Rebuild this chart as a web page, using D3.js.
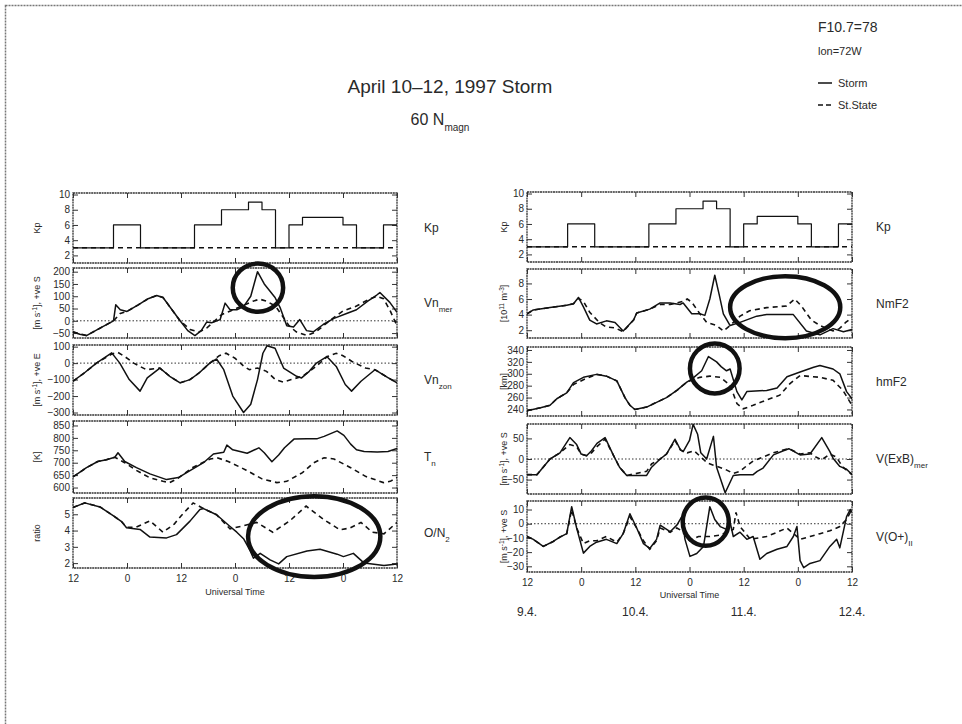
<!DOCTYPE html>
<html><head><meta charset="utf-8">
<script src="https://cdn.jsdelivr.net/npm/d3@7"></script>
<style>
body{margin:0;background:#fff;}
text{font-family:"Liberation Sans",Arial,sans-serif;fill:#2a2a2a;}
</style></head>
<body><svg id="c" width="962" height="724"></svg>
<script>
// ---------- DATA (hours from 12 UT 9 April 1997, value) ----------
const xTickHours = [0,12,24,36,48,60,72];
const xTickLabels = ["12","0","12","0","12","0","12"];
const dateHours = [0,24,48,72];
const dateLabels = ["9.4.","10.4.","11.4.","12.4."];

const kpStorm = [[0,3],[9,6],[15,3],[27,6],[33,8],[39,9],[42,8],[45,3],[48,6],[51,7],[60,6],[63,3],[69,6],[72,6]];
const kpSS = [[0,3],[72,3]];

const vnMerStorm = [[0,-45],[1.5,-55],[3,-60],[6,-30],[9,0],[9.5,65],[10.5,45],[12,38],[14.5,65],[16.7,90],[18.6,103],[20,95],[22,45],[23.8,0],[25.5,-40],[27.1,-60],[28.5,-40],[29.7,-5],[30.8,-8],[32.7,5],[33.8,72],[34.9,45],[36.4,45],[37.9,58],[39.5,100],[41,200],[42.5,150],[44.9,95],[46,55],[47.5,-20],[49,-25],[50.4,5],[51.9,-40],[53.4,-45],[55.6,-15],[58,10],[60.8,30],[63,45],[65.5,80],[67.5,105],[68.2,115],[70.4,75],[72,35]];
const vnMerSS = [[0,-45],[3,-60],[6,-30],[9,0],[10.5,30],[12,38],[14.5,65],[16.7,90],[18.6,103],[20,95],[22,45],[23.8,0],[26,-35],[28,-45],[29.7,-30],[31.5,0],[33,25],[35,40],[37.5,60],[40,80],[41.5,88],[43,80],[45,60],[46.5,20],[48,-20],[49.6,-45],[52,-60],[54,-45],[57,0],[60,40],[63,60],[65.5,85],[67.5,100],[69,90],[70.5,40],[72,-20]];

const vnZonStorm = [[0,-110],[2.5,-60],[5.2,0],[8.6,62],[10.4,0],[12.5,-100],[14.9,-170],[16.5,-90],[19.3,-30],[21.5,-80],[23.8,-120],[26,-100],[28,-60],[30.4,0],[31.9,25],[33.5,-40],[35.5,-200],[37.9,-300],[39.5,-250],[41,-100],[42.2,60],[43.1,105],[44.9,90],[46.8,-30],[49.7,-80],[50.8,-90],[52.5,-50],[54.1,0],[56.4,40],[58.5,-20],[60.5,-130],[61.9,-170],[64,-110],[67.1,-40],[69.5,-80],[72,-120]];
const vnZonSS = [[0,-110],[2.5,-60],[5.2,0],[8.6,55],[10,65],[11.5,40],[13.5,0],[16.3,-40],[19.3,-30],[21.5,-80],[23.8,-120],[26,-100],[28,-60],[30.4,0],[32.5,45],[34,60],[36,30],[38,-20],[39.2,-40],[41,-30],[43,-50],[45,-100],[46.7,-115],[48.5,-100],[51,-80],[54,-20],[56.5,40],[58.5,60],[60,45],[62,10],[65,-30],[67.1,-40],[69.5,-80],[72,-120]];

const tnStorm = [[0,643],[3,680],[5.5,705],[7.4,712],[9.3,722],[10,740],[11.5,705],[14.1,680],[17.1,655],[20.8,632],[23.4,640],[26,668],[29,700],[31.2,735],[33.5,742],[34.2,771],[35.5,752],[38.7,738],[41.3,760],[42.5,740],[44.2,704],[45.7,731],[47,760],[49.1,795],[52,797],[54.3,797],[55.8,806],[58.7,828],[60.2,810],[61.7,775],[63,752],[64.7,745],[67.6,743],[70,745],[72,757]];
const tnSS = [[0,643],[3,680],[5.5,705],[7.4,712],[9.3,722],[11.5,700],[14,670],[17,640],[20,625],[21.5,620],[23.4,638],[26.5,680],[30.5,715],[32,720],[34.5,705],[38.5,670],[42,635],[45.3,620],[47.5,625],[51,660],[53.5,700],[55.8,720],[58,715],[61.7,680],[65,645],[69,620],[70.5,625],[72,640]];

const on2Storm = [[0,5.42],[2.6,5.7],[6,5.45],[9,4.9],[10.8,4.55],[11.9,4.17],[14.9,4.07],[17.1,3.6],[20.8,3.55],[23,3.75],[26,4.58],[28.2,5.3],[29,5.35],[31.9,4.97],[34.9,4.25],[36.4,3.9],[37.9,3.5],[39.3,2.8],[40.1,2.3],[41.6,2.6],[43.8,2.2],[45.7,1.95],[47.5,2.4],[52,2.75],[54.9,2.85],[58.7,2.55],[60.1,2.4],[62.3,2.6],[64.7,2.0],[69.1,1.85],[72,1.95]];
const on2SS = [[0,5.42],[2.6,5.7],[6,5.45],[9,4.9],[10.8,4.55],[11.9,4.2],[14,4.2],[17.1,4.6],[20,3.9],[22.5,4.4],[24,4.9],[26.7,5.7],[29,5.35],[31.9,4.97],[34.9,4.1],[37.9,4.3],[40.8,4.5],[44.4,3.9],[48.2,4.6],[51.8,5.5],[55.6,4.7],[59.3,4.05],[61.5,4.15],[64,4.5],[66.5,3.9],[69.1,3.8],[72,4.5]];

const nmStorm = [[0,4.1],[1.4,4.6],[5.1,4.9],[8.8,5.2],[10.3,5.4],[11.4,6.2],[12.5,5.0],[13.9,3.3],[15.4,2.8],[17.6,3.2],[19.5,3.0],[21.3,1.9],[23.6,3.3],[24.3,4.2],[27.2,4.7],[29.5,5.5],[31.7,5.5],[33.9,5.3],[34.6,5.5],[36.5,4.1],[38.3,4.1],[39.4,3.9],[40.5,6.0],[41.6,9.05],[42.6,6.5],[43.5,4.1],[45,2.6],[47.2,3.0],[50.9,3.8],[53.1,4.0],[59,4.0],[61.9,1.9],[64.9,1.4],[67.8,2.2],[70.1,1.8],[72,2.1]];
const nmSS = [[0,4.1],[1.4,4.6],[5.1,4.9],[8.8,5.2],[10.3,5.4],[11.4,6.1],[12.5,5.7],[13.9,4.3],[16,3.0],[17.6,2.4],[19.5,2.3],[21.3,1.8],[23.6,3.3],[24.3,4.2],[27.2,4.7],[29.5,5.3],[31.7,5.3],[34.6,5.7],[35.5,6.0],[36.5,5.6],[38.3,4.1],[39.8,3.0],[42,2.6],[43.5,1.9],[45,2.6],[47.2,3.8],[49.3,4.5],[53.1,4.9],[57.5,5.1],[59.3,6.0],[60.8,5.1],[63,3.3],[64.9,2.6],[67.8,1.9],[69.2,2.2],[70.6,3.0],[72,3.6]];

const hmStorm = [[0,238],[3,243],[5.1,247],[6.6,258],[8.8,268],[10.3,285],[12.5,294],[15.4,299],[17.6,296],[19.9,288],[21.7,260],[22.8,247],[23.9,240],[26.5,244],[28.7,252],[30.9,260],[33.2,272],[35.4,286],[36.5,291],[38.7,305],[40.2,329],[42,320],[43,312],[44.2,305],[45,308],[46.5,270],[47.6,256],[48.7,270],[53.1,272],[55.4,276],[57.6,295],[60.5,303],[63.5,311],[64.9,314],[67.8,308],[69.3,300],[70.8,270],[72,258]];
const hmSS = [[0,238],[3,243],[5.1,247],[6.6,258],[8.8,268],[10.3,282],[12.5,290],[15.4,299],[17.6,296],[19.9,288],[21.7,260],[22.8,247],[23.9,240],[26.5,244],[28.7,252],[30.9,260],[33.2,272],[35.4,286],[38.3,294],[40.5,296],[42.8,294],[45,281],[46.5,250],[47.9,241],[50.1,247],[53.1,256],[56,264],[58.2,283],[60.5,297],[64.9,294],[67.8,289],[70,272],[72,247]];

const exbStorm = [[0,-38],[2.2,-38],[5.1,0],[7.3,15],[9.5,52],[11,35],[12,12],[13.2,8],[14.3,20],[15.5,38],[17.3,52],[19.1,10],[20.5,-20],[22.1,-40],[26.5,-40],[27.6,-20],[29.5,0],[30.9,12],[32.8,48],[34,22],[34.6,18],[36,45],[36.8,84],[37.8,60],[38.5,15],[39.8,0],[41.3,55],[42,-20],[43.9,-82],[45.7,-40],[47.2,-38],[50.1,-38],[51,-30],[52.3,-22],[54.6,10],[56.8,20],[58,25],[60.5,10],[62.7,12],[65.3,52],[67.1,18],[67.8,2],[69.3,-18],[70.8,-25],[72,-38]];
const exbSS = [[0,-38],[2.2,-38],[5.1,0],[7.3,15],[9.5,35],[11,30],[12,12],[13.2,8],[14.3,15],[15.5,30],[17.3,48],[19.1,10],[20.5,-20],[22.1,-40],[26.5,-30],[27.6,-12],[29.5,0],[30.9,12],[32.8,45],[34,22],[35.5,15],[37,20],[38.5,5],[40,-10],[41.3,-15],[43.9,-25],[45.7,-35],[47.2,-30],[48.5,-18],[50.1,-5],[52.3,5],[54.6,15],[56.8,22],[58,25],[60.5,12],[62.7,15],[64,5],[65.3,-2],[67.1,12],[68.5,5],[70,-20],[72,-38]];

const voStorm = [[0,-9],[1.4,-11],[3.6,-16],[5.8,-12.5],[7.3,-9.4],[8.8,-7],[9.9,12],[11,-3],[12.5,-20.7],[13.9,-16],[15.4,-13],[17.6,-11],[19.9,-14],[21.3,-7],[22.8,7],[24.3,-3],[25.8,-14],[27.2,-17.4],[28.7,-11],[29.5,-1],[31.7,-5.6],[33.2,-1],[34.3,5],[35,-11],[36.1,-23],[37.6,-21],[39.1,-16],[40.5,12],[41.6,3],[42.8,-2],[44.2,-4],[45,1],[45.7,-9],[47.2,-6],[48.7,-11],[50.1,-9],[51.6,-25],[53.1,-21],[55.4,-18],[57.6,-16],[59,-9],[59.8,-2],[60.5,-26],[61.3,-31],[62.7,-28],[64.9,-26],[67.1,-16],[68.6,-11],[69.3,-17],[70.8,5],[71.6,10],[72,8]];
const voSS = [[0,-9],[1.4,-11],[3.6,-16],[5.8,-12.5],[7.3,-9.4],[8.8,-7],[9.9,10],[11,-3],[12.5,-14],[13.9,-12],[15.4,-12],[17.6,-9],[19.9,-13],[21.3,-7],[22.8,5],[24.3,-3],[25.8,-12],[27.2,-18],[28.7,-12],[29.5,-3],[31.7,-6],[33.2,-3],[34.3,-5],[36,-12],[38,-9],[40.5,-9],[42.8,-8],[44.2,-6],[45.7,-4],[46.3,8],[47.2,-2],[49.5,-11],[53.1,-9],[55.4,-6],[57.6,-3],[60.5,-11],[62.7,-9],[64.9,-7],[67.1,-5],[69.3,-2],[70.8,3],[71.6,8],[72,6]];

// annotation ellipses: [hour, value, halfWidthHours, halfHeightValue]
const circVnMer = [41.1, 135, 5.6, 98];
const circOn2 = [53.6, 3.63, 14.7, 2.48];
const circNm = [57.2, 4.95, 12.2, 3.97];
const circHm = [41.6, 309, 5.5, 42];
const circVo = [39.6, 1.4, 5.1, 17];

// ---------- DRAWING ----------
const svg = d3.select("#c");
svg.append("rect").attr("x",5.5).attr("y",5.5).attr("width",990).attr("height",760)
  .attr("fill","none").attr("stroke","#777").attr("stroke-width",1.5).attr("stroke-dasharray","2,1");

function drawPanel(p){
  const x = d3.scaleLinear().domain([0,72]).range([p.x0,p.x1]);
  const y = d3.scaleLinear().domain(p.domain).range([p.y1,p.y0]);
  const g = svg.append("g");
  const fmtNone = () => "";
  g.append("g").attr("transform",`translate(0,${p.y1})`)
    .call(d3.axisBottom(x).tickValues(xTickHours).tickSizeInner(-5).tickSizeOuter(0).tickPadding(7)
      .tickFormat(p.bottom ? (d,i)=>xTickLabels[i] : fmtNone));
  g.append("g").attr("transform",`translate(0,${p.y0})`)
    .call(d3.axisTop(x).tickValues(xTickHours).tickSizeInner(-5).tickSizeOuter(0).tickFormat(fmtNone));
  g.append("g").attr("transform",`translate(${p.x0},0)`)
    .call(d3.axisLeft(y).tickValues(p.ticks).tickSizeInner(-5).tickSizeOuter(0).tickPadding(3)
      .tickFormat(d=>String(d).replace("-","\u2212")));
  g.append("g").attr("transform",`translate(${p.x1},0)`)
    .call(d3.axisRight(y).tickValues(p.ticks).tickSizeInner(-5).tickSizeOuter(0).tickFormat(fmtNone));
  g.selectAll(".domain").remove();
  g.selectAll(".tick line").attr("stroke","#333").attr("stroke-width",1);
  g.selectAll(".tick text").attr("font-size",10).attr("fill","#2a2a2a")
    .style("font-family","'Liberation Sans',Arial,sans-serif");
  g.append("rect").attr("x",p.x0).attr("y",p.y0).attr("width",p.x1-p.x0).attr("height",p.y1-p.y0)
    .attr("fill","none").attr("stroke","#333").attr("stroke-width",1.3).attr("stroke-dasharray","2,0.6");
  const clipId = "clip"+Math.round(p.x0)+"_"+Math.round(p.y0);
  svg.append("clipPath").attr("id",clipId).append("rect")
    .attr("x",p.x0).attr("y",p.y0).attr("width",p.x1-p.x0).attr("height",p.y1-p.y0);
  const lg = g.append("g").attr("clip-path",`url(#${clipId})`);
  if(p.zero){
    lg.append("line").attr("x1",p.x0).attr("x2",p.x1).attr("y1",y(0)).attr("y2",y(0))
      .attr("stroke","#333").attr("stroke-width",1).attr("stroke-dasharray","1.5,2");
  }
  const line = d3.line().x(d=>x(d[0])).y(d=>y(d[1])).curve(p.step ? d3.curveStepAfter : d3.curveLinear);
  lg.append("path").datum(p.ss).attr("d",line).attr("fill","none").attr("stroke","#111")
    .attr("stroke-width",1.6).attr("stroke-dasharray","5,4");
  lg.append("path").datum(p.storm).attr("d",line).attr("fill","none").attr("stroke","#111")
    .attr("stroke-width",p.step?1.2:1.5).attr("stroke-linejoin","round");
  if(p.circ){
    const c = p.circ;
    svg.append("ellipse").attr("cx",x(c[0])).attr("cy",y(c[1]))
      .attr("rx",x(c[0]+c[2])-x(c[0])).attr("ry",Math.abs(y(c[1]+c[3])-y(c[1])))
      .attr("fill","none").attr("stroke","#111").attr("stroke-width",4.5);
  }
  const cy = (p.y0+p.y1)/2;
  const ut = svg.append("text").attr("transform",`translate(${p.ux},${cy}) rotate(-90)`)
    .attr("text-anchor","middle").attr("font-size",9);
  p.unit.forEach(s=>{ const t=ut.append("tspan").text(s[0]); if(s[1]) t.attr("baseline-shift",s[1]).attr("font-size",6.5); });
  const nt = svg.append("text").attr("x",p.nx).attr("y",cy+4).attr("font-size",12);
  p.name.forEach(s=>{ const t=nt.append("tspan").text(s[0]); if(s[1]) t.attr("baseline-shift",s[1]).attr("font-size",8); });
  return x;
}

const L = {x0:73,x1:397,ux:40,nx:424};
const R = {x0:527,x1:852,ux:507,nx:876};
const leftPanels = [
  {y0:193,y1:263,domain:[1,10.2],ticks:[2,4,6,8,10],storm:kpStorm,ss:kpSS,step:true,unit:[["Kp"]],name:[["Kp"]]},
  {y0:268,y1:338,domain:[-70,215],ticks:[-50,0,50,100,150,200],storm:vnMerStorm,ss:vnMerSS,zero:true,circ:circVnMer,
   unit:[["[m s"],["-1","super"],["], +ve S"]],name:[["Vn"],["mer","sub"]]},
  {y0:345,y1:415,domain:[-315,110],ticks:[-300,-200,-100,0,100],storm:vnZonStorm,ss:vnZonSS,zero:true,
   unit:[["[m s"],["-1","super"],["], +ve E"]],name:[["Vn"],["zon","sub"]]},
  {y0:421,y1:493,domain:[578,868],ticks:[600,650,700,750,800,850],storm:tnStorm,ss:tnSS,
   unit:[["[K]"]],name:[["T"],["n","sub"]]},
  {y0:498,y1:568,domain:[1.7,6.0],ticks:[2,3,4,5],storm:on2Storm,ss:on2SS,circ:circOn2,bottom:true,
   unit:[["ratio"]],name:[["O/N"],["2","sub"]]}
];
const rightPanels = [
  {y0:192,y1:262,domain:[1,10.2],ticks:[2,4,6,8,10],storm:kpStorm,ss:kpSS,step:true,unit:[["Kp"]],name:[["Kp"]]},
  {y0:269,y1:338,domain:[1,9.85],ticks:[2,4,6,8],storm:nmStorm,ss:nmSS,circ:circNm,
   unit:[["[10"],["11","super"],[" m"],["-3","super"],["]"]],name:[["NmF2"]]},
  {y0:347,y1:416,domain:[229,345],ticks:[240,260,280,300,320,340],storm:hmStorm,ss:hmSS,circ:circHm,
   unit:[["[km]"]],name:[["hmF2"]]},
  {y0:424,y1:494,domain:[-85,85],ticks:[-50,0,50],storm:exbStorm,ss:exbSS,zero:true,
   unit:[["[m s"],["-1","super"],["], +ve S"]],name:[["V(ExB)"],["mer","sub"]]},
  {y0:501,y1:572,domain:[-34,16],ticks:[-30,-20,-10,0,10],storm:voStorm,ss:voSS,zero:true,circ:circVo,bottom:true,
   unit:[["[m s"],["-1","super"],["], +ve S"]],name:[["V(O+)"],["II","sub"]]}
];
leftPanels.forEach(p=>drawPanel(Object.assign({},L,p)));
let xr;
rightPanels.forEach(p=>{ xr = drawPanel(Object.assign({},R,p)); });

svg.append("text").attr("x",(L.x0+L.x1)/2).attr("y",595).attr("text-anchor","middle").attr("font-size",9).text("Universal Time");
svg.append("text").attr("x",(R.x0+R.x1)/2).attr("y",598).attr("text-anchor","middle").attr("font-size",9).text("Universal Time");
svg.selectAll(".dates").data(dateHours).enter().append("text")
  .attr("x",d=>xr(d)).attr("y",616).attr("text-anchor","middle").attr("font-size",12)
  .text((d,i)=>dateLabels[i]);

svg.append("text").attr("x",450).attr("y",93).attr("text-anchor","middle").attr("font-size",19).attr("fill","#333")
  .text("April 10\u201312, 1997 Storm");
const st = svg.append("text").attr("x",440).attr("y",125).attr("text-anchor","middle").attr("font-size",16).attr("fill","#333");
st.append("tspan").text("60 N");
st.append("tspan").text("magn").attr("baseline-shift","sub").attr("font-size",10);

svg.append("text").attr("x",818).attr("y",32).attr("font-size",14).text("F10.7=78");
svg.append("text").attr("x",818).attr("y",55).attr("font-size",11).text("lon=72W");
svg.append("line").attr("x1",818).attr("x2",832).attr("y1",83).attr("y2",83).attr("stroke","#111").attr("stroke-width",1.5);
svg.append("text").attr("x",838).attr("y",87).attr("font-size",11).text("Storm");
svg.append("line").attr("x1",818).attr("x2",833).attr("y1",105).attr("y2",105).attr("stroke","#111").attr("stroke-width",1.5).attr("stroke-dasharray","5,3");
svg.append("text").attr("x",838).attr("y",109).attr("font-size",11).text("St.State");
</script></body></html>
